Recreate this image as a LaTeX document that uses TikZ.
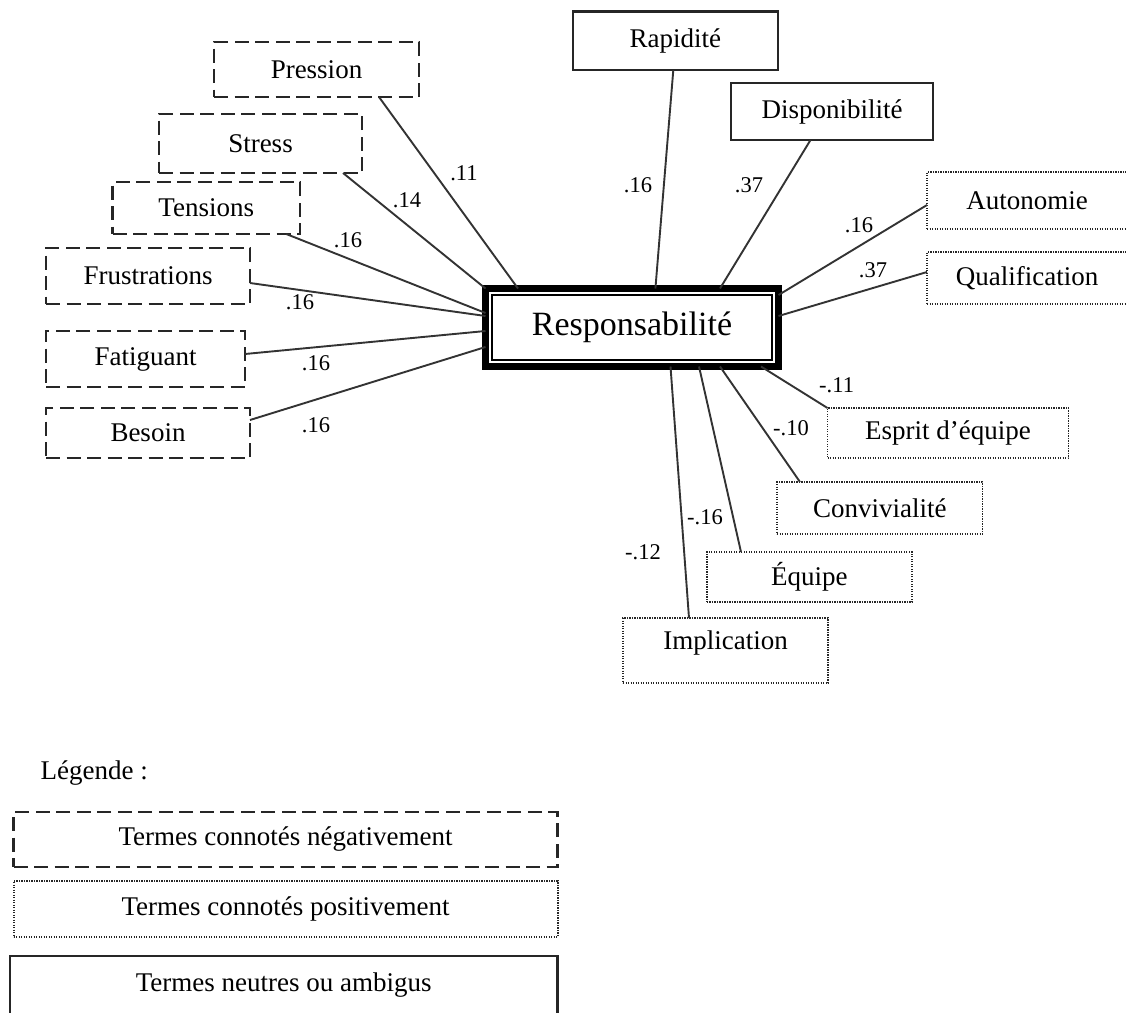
\documentclass[tikz,border=0pt]{standalone}
\usepackage{fontspec}
\setmainfont{Liberation Serif}
\begin{document}
\begin{tikzpicture}[x=1pt,y=-1pt,
  every node/.style={inner sep=0pt, outer sep=0pt},
  boxtxt/.style={rectangle, font=\fontsize{27}{30}\selectfont},
  negbox/.style={boxtxt, draw=black!85, line width=2.4pt, dash pattern=on 14pt off 6.5pt},
  posbox/.style={boxtxt, draw=black!85, line width=1.8pt, dash pattern=on 1.3pt off 1.2pt},
  neubox/.style={boxtxt, draw=black!85, line width=2.2pt},
  conn/.style={draw=black!80, line width=1.9pt},
  lbl/.style={font=\fontsize{22.5}{25}\selectfont}
]
\useasboundingbox (0,0) rectangle (1126,1012);

% central node
\node[rectangle, draw=black, line width=7pt, minimum width=293, minimum height=78,
      font=\fontsize{34}{38}\selectfont] (R) at (632,327.5) {Responsabilité};
\draw[line width=1.5pt] ([xshift=6.5pt,yshift=-6.5pt]R.north west) rectangle ([xshift=-6.5pt,yshift=6.5pt]R.south east);

% negative terms
\node[negbox, minimum width=205, minimum height=55] (P) at (316.5,69.5) {Pression};
\node[negbox, minimum width=203, minimum height=59] (S) at (260.5,143.5) {Stress};
\node[negbox, minimum width=187.5, minimum height=52] (T) at (206.25,208) {Tensions};
\node[negbox, minimum width=204, minimum height=56] (F) at (148,276) {Frustrations};
\node[negbox, minimum width=199, minimum height=56] (Fa) at (145.5,359) {Fatiguant};
\node[negbox, minimum width=204, minimum height=50] (B) at (148,433) {Besoin};

% neutral terms
\node[neubox, minimum width=205, minimum height=58.5] (Ra) at (675.3,40.8) {Rapidité};
\node[neubox, minimum width=202, minimum height=57] (D) at (832,111.5) {Disponibilité};

% positive terms
\node[posbox, minimum width=200, minimum height=57] (A) at (1027,200.5) {Autonomie};
\node[posbox, minimum width=200, minimum height=52] (Q) at (1027,278) {Qualification};
\node[posbox, minimum width=241, minimum height=50] (E) at (948,433) {Esprit d’équipe};
\node[posbox, minimum width=205.5, minimum height=52] (C) at (879.75,508) {Convivialité};
\node[posbox, minimum width=205.3, minimum height=50] (Eq) at (809.35,577) {Équipe};
\node[posbox, minimum width=205, minimum height=65, text depth=20pt] (I) at (725.5,650.5) {Implication};

% connectors
\draw[conn] ([xshift=62.5pt]P.south) -- ([xshift=-114pt]R.north);
\draw[conn] ([xshift=82.5pt]S.south) -- (R.north west);
\draw[conn] ([xshift=80pt]T.south) -- ([yshift=14.5pt]R.west);
\draw[conn] ([yshift=-7pt]F.east) -- ([yshift=11.5pt]R.west);
\draw[conn] ([yshift=5pt]Fa.east) -- ([yshift=-3.5pt]R.west);
\draw[conn] ([yshift=13pt]B.east) -- ([yshift=-19.5pt]R.west);
\draw[conn] ([xshift=-2pt]Ra.south) -- ([xshift=23.4pt]R.north);
\draw[conn] ([xshift=-21.5pt]D.south) -- ([xshift=88pt]R.north);
\draw[conn] ([yshift=-4.5pt]A.west) -- ([yshift=32.5pt]R.east);
\draw[conn] ([yshift=6pt]Q.west) -- ([yshift=11.5pt]R.east);
\draw[conn] (E.north west) -- ([xshift=129pt]R.south);
\draw[conn] ([xshift=-79.75pt]C.north) -- ([xshift=88pt]R.south);
\draw[conn] ([xshift=-68.35pt]Eq.north) -- ([xshift=67pt]R.south);
\draw[conn] ([xshift=-36.5pt]I.north) -- ([xshift=38.5pt]R.south);

% connector labels
\node[lbl] (l1) at (464,173) {.11};
\node[lbl] (l2) at (407,200) {.14};
\node[lbl] (l3) at (348,240) {.16};
\node[lbl] (l4) at (300,302) {.16};
\node[lbl] (l5) at (316,363) {.16};
\node[lbl] (l6) at (316,425) {.16};
\node[lbl] (l7) at (638,185) {.16};
\node[lbl] (l8) at (749,185) {.37};
\node[lbl] (l9) at (859,225) {.16};
\node[lbl] (l10) at (873,270) {.37};
\node[lbl] (l11) at (836.6,385) {-.11};
\node[lbl] (l12) at (791,428) {-.10};
\node[lbl] (l13) at (705,517) {-.16};
\node[lbl] (l14) at (643,552) {-.12};

% legend
\node[anchor=west, font=\fontsize{27}{30}\selectfont] (leg) at (40.7,773) {Légende :};
\node[negbox, minimum width=544, minimum height=55] (ln) at (285.6,839.5) {Termes connotés négativement};
\node[posbox, minimum width=544, minimum height=56] (lp) at (285.6,909) {Termes connotés positivement};
\node[neubox, minimum width=547.5, minimum height=58] (lu) at (283.75,985) {Termes neutres ou ambigus};
\end{tikzpicture}
\end{document}
